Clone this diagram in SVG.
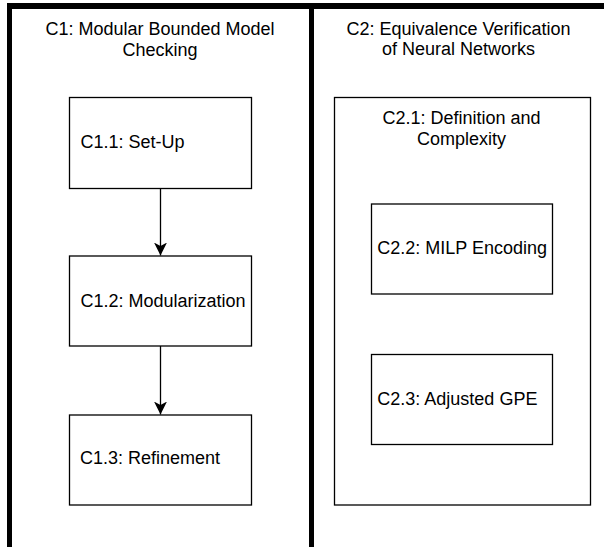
<svg xmlns="http://www.w3.org/2000/svg" width="604" height="547" viewBox="0 0 604 547">
  <style>
    text { font-family: "Liberation Sans", Arial, Helvetica, sans-serif; font-size: 18px; fill: #000; }
    .mid { text-anchor: middle; }
    .box { fill: #fff; stroke: #000; stroke-width: 1.3; }
    .rule { fill: #000; }
    .edge { stroke: #000; stroke-width: 1.3; fill: none; }
  </style>
  <defs>
    <marker id="arrow" markerUnits="userSpaceOnUse" viewBox="0 0 14 14" refX="13" refY="7" markerWidth="14" markerHeight="14" orient="auto">
      <path d="M0,0.5 L13,7 L0,13.5 L3.5,7 Z" fill="#000"/>
    </marker>
  </defs>

  <rect width="604" height="547" fill="#fff"/>

  <!-- table frame: top rule, left rule and column divider -->
  <g id="frame">
    <rect class="rule" x="7" y="3" width="597" height="6"/>
    <rect class="rule" x="7" y="3" width="5" height="544"/>
    <rect class="rule" x="309" y="3" width="5" height="544"/>
  </g>

  <!-- column C1 -->
  <g id="c1">
    <text class="mid" x="160" y="35">C1: Modular Bounded Model</text>
    <text class="mid" x="160" y="55.7">Checking</text>
  </g>
  <g id="c1-1">
    <rect class="box" x="69.5" y="97.5" width="182" height="91"/>
    <text x="80.5" y="148.3">C1.1: Set-Up</text>
  </g>
  <g id="c1-2">
    <rect class="box" x="69.5" y="256" width="182" height="90"/>
    <text x="80.5" y="306.7">C1.2: Modularization</text>
  </g>
  <g id="c1-3">
    <rect class="box" x="69.5" y="415" width="182" height="90"/>
    <text x="80" y="464.3">C1.3: Refinement</text>
  </g>

  <!-- column C2 -->
  <g id="c2">
    <text class="mid" x="458.5" y="34.5">C2: Equivalence Verification</text>
    <text class="mid" x="458.5" y="55.2">of Neural Networks</text>
  </g>
  <g id="c2-1">
    <rect class="box" x="334.5" y="97.5" width="256" height="407.5"/>
    <text class="mid" x="461.5" y="124">C2.1: Definition and</text>
    <text class="mid" x="461.5" y="144.7">Complexity</text>
  </g>
  <g id="c2-2">
    <rect class="box" x="371.5" y="204" width="181" height="90"/>
    <text x="377.3" y="254.3">C2.2: MILP Encoding</text>
  </g>
  <g id="c2-3">
    <rect class="box" x="371.5" y="354.5" width="181" height="90"/>
    <text x="377.3" y="405">C2.3: Adjusted GPE</text>
  </g>

  <!-- connectors -->
  <g id="edges">
    <path class="edge" d="M160.5,188.5 L160.5,255.5" marker-end="url(#arrow)"/>
    <path class="edge" d="M160.5,346 L160.5,414.5" marker-end="url(#arrow)"/>
  </g>
</svg>
